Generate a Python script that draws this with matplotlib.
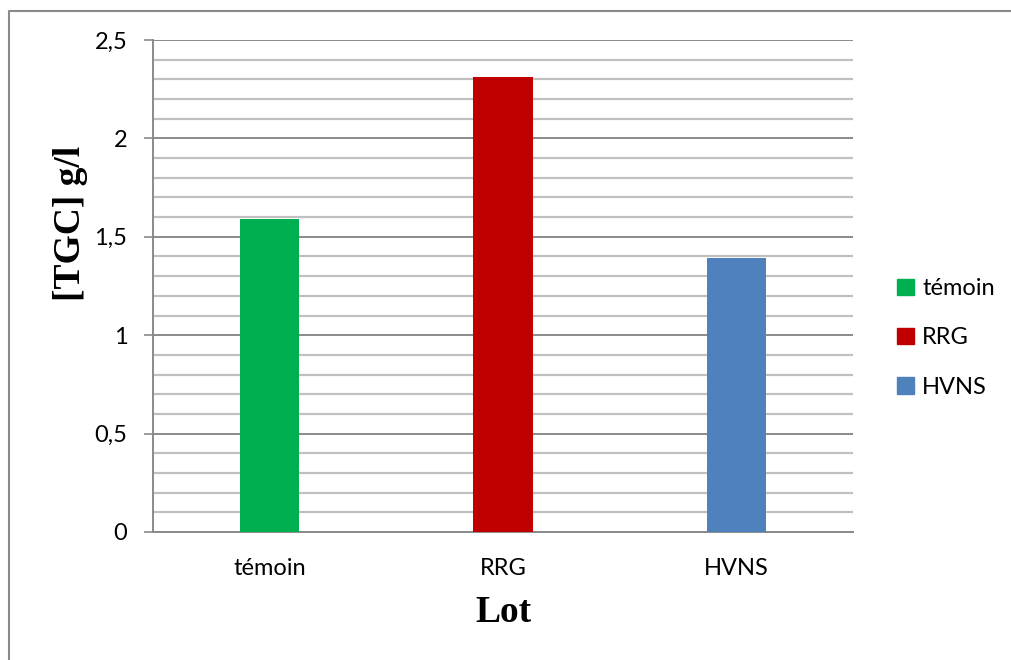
import matplotlib.pyplot as plt
from matplotlib.lines import Line2D
import numpy as np

# values
lots = ['témoin', 'RRG', 'HVNS']
tgc = [1.59, 2.31, 1.39]
colors = ['#00b050', '#c00000', '#4f81bd']
yticks = [0, 0.5, 1, 1.5, 2, 2.5]
ytick_labels = ['0', '0,5', '1', '1,5', '2', '2,5']

W, H = 1012, 660
fig = plt.figure(figsize=(W / 100, H / 100), dpi=100)
ax = fig.add_axes([153 / W, 128 / H, 700 / W, 492 / H])

x = np.arange(len(lots))
ax.bar(x, tgc, width=0.253, color=colors, zorder=3)

ax.set_xlim(-0.5, 2.5)
ax.set_ylim(0, 2.5)

# gridlines: minor every 0.1, major every 0.5
ax.set_yticks(yticks)
ax.set_yticklabels(ytick_labels, fontfamily='Lato', fontsize=17)
ax.set_yticks(np.arange(0, 2.51, 0.1), minor=True)
ax.grid(axis='y', which='minor', color='#c0c0c0', lw=1.6, zorder=1)
ax.grid(axis='y', which='major', color='#8a8a8a', lw=1.4, zorder=2)
ax.tick_params(axis='y', which='major', length=6.5, width=1.2, color='#8a8a8a', pad=12)
ax.tick_params(axis='y', which='minor', length=0)

ax.set_xticks(x)
ax.set_xticklabels(lots, fontfamily='Lato', fontsize=17)
ax.tick_params(axis='x', length=0, pad=19)

for s in ['top', 'right']:
    ax.spines[s].set_visible(False)
ax.spines['left'].set_color('#8a8a8a')
ax.spines['left'].set_linewidth(1.4)
ax.spines['bottom'].set_color('#8a8a8a')
ax.spines['bottom'].set_linewidth(1.4)

fig.text(70 / W, 1 - 223 / H, '[TGC] g/l', rotation=90, ha='center', va='center',
         fontfamily='Liberation Serif', fontweight='bold', fontsize=27)
fig.text(503 / W, 1 - 612 / H, 'Lot', ha='center', va='center',
         fontfamily='Liberation Serif', fontweight='bold', fontsize=27)

# legend
handles = [plt.Rectangle((0, 0), 1, 1, color=c) for c in colors]
fig.legend(handles, lots, loc='center left', bbox_to_anchor=(876 / W, 1 - 338 / H),
           frameon=False, prop={'family': 'Lato', 'size': 17},
           handlelength=0.7, handleheight=0.7, handletextpad=0.35, labelspacing=1.2)

# chart border (left and top edges visible)
fig.add_artist(Line2D([9.5 / W, 9.5 / W, 1], [0, 1 - 10.5 / H, 1 - 10.5 / H],
                      transform=fig.transFigure, color='#8a8a8a', lw=1.5))

fig.savefig('out.png', dpi=100)
